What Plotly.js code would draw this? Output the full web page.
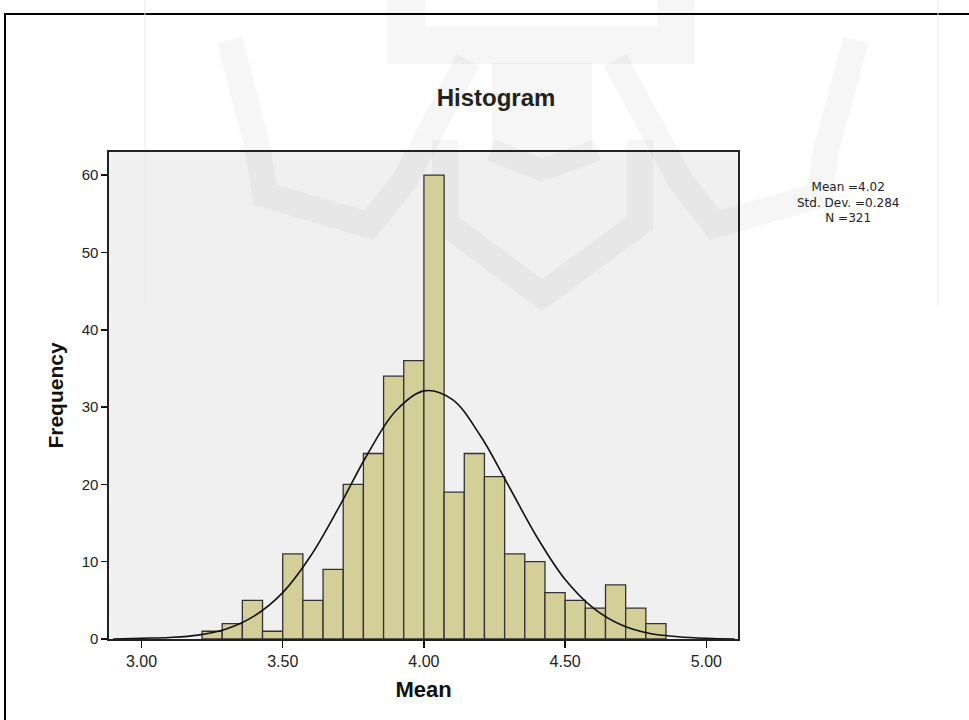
<!DOCTYPE html>
<html>
<head>
<meta charset="utf-8">
<script src="https://cdn.plot.ly/plotly-3.0.1.min.js"></script>
<style>html,body{margin:0;padding:0;background:#fff;}#chart{width:969px;height:720px;}</style>
</head>
<body>
<div id="chart"></div>
<script>
// Histogram bins: first bin starts at ~3.214, width 1/14
var binStart = 3.2143;
var binWidth = 0.5 / 7;
var counts = [1, 2, 5, 1, 11, 5, 9, 20, 24, 34, 36, 60, 19, 24, 21, 11, 10, 6, 5, 4, 7, 4, 2];

// Normal curve points
var curveX = [2.90, 3.00, 3.10, 3.20, 3.30, 3.40, 3.50, 3.60, 3.70, 3.80, 3.90, 4.00, 4.10, 4.20, 4.30, 4.40, 4.50, 4.60, 4.70, 4.80, 4.90, 5.00, 5.10];
var curveY = [0.0, 0.1, 0.2, 0.5, 1.3, 3.0, 6.0, 10.8, 17.1, 23.9, 29.5, 32.1, 31.0, 26.3, 19.8, 13.2, 7.7, 4.0, 1.8, 0.7, 0.3, 0.1, 0.0];

// Tick labels
var xTickVals = [3.0, 3.5, 4.0, 4.5, 5.0];
var xTickText = ["3.00", "3.50", "4.00", "4.50", "5.00"];
var yTickVals = [0, 10, 20, 30, 40, 50, 60];

// Summary statistics
var statLines = ["Mean =4.02", "Std. Dev. =0.284", "N =321"];

var binLefts = counts.map(function (c, i) { return binStart + i * binWidth; });

var FONT = "Liberation Sans, Arial, sans-serif";

var traces = [
  {
    type: "bar",
    x: binLefts,
    y: counts,
    width: binWidth,
    offset: 0,
    marker: { color: "#d4cf98", line: { color: "#333333", width: 1.3 } },
    hoverinfo: "x+y",
    showlegend: false
  },
  {
    type: "scatter",
    mode: "lines",
    x: curveX,
    y: curveY,
    line: { color: "#111", width: 1.6, shape: "spline", smoothing: 1 },
    hoverinfo: "skip",
    showlegend: false
  }
];

// plot area in pixels: left 109, right 738, top 152, bottom 639
function px(x) { return (x - 109) / 629; }
function py(y) { return (639 - y) / 487; }

var wm = "rgba(0,0,0,0.035)";
function band(pts, w) {
  var d = "M" + pts.map(function (p) { return px(p[0]) + "," + py(p[1]); }).join(" L");
  return { type: "path", xref: "paper", yref: "paper", path: d, line: { color: wm, width: w }, layer: "below" };
}

var shapes = [
  // outer frame
  { type: "rect", xref: "paper", yref: "paper", x0: px(5), x1: px(990), y0: py(14), y1: py(740),
    line: { color: "#000", width: 2 }, fillcolor: "rgba(0,0,0,0)", layer: "below" },
  // faint vertical guide lines
  { type: "line", xref: "paper", yref: "paper", x0: px(145), x1: px(145), y0: py(0), y1: py(305),
    line: { color: "#e8e8e8", width: 1 }, layer: "below" },
  { type: "line", xref: "paper", yref: "paper", x0: px(938), x1: px(938), y0: py(0), y1: py(305),
    line: { color: "#e8e8e8", width: 1 }, layer: "below" },
  // watermark approximation
  band([[406, 0], [406, 45], [676, 45], [676, 0]], 38),
  band([[542, 63], [542, 150]], 100),
  band([[445, 140], [445, 223], [542, 295], [640, 223], [640, 140]], 26),
  band([[491, 150], [542, 170], [597, 150]], 22),
  band([[230, 40], [258, 150], [265, 195], [369, 225], [405, 180], [468, 60]], 26),
  band([[856, 40], [826, 150], [820, 195], [715, 225], [680, 180], [615, 60]], 26)
];

var annotations = [{
  xref: "paper", yref: "paper", x: px(848), y: py(202),
  xanchor: "center", yanchor: "middle", showarrow: false, align: "center",
  text: statLines.join("<br>"),
  font: { family: "DejaVu Sans, sans-serif", size: 12, color: "#222" }
}];

var layout = {
  width: 969,
  height: 720,
  paper_bgcolor: "#ffffff",
  plot_bgcolor: "#f0f0f0",
  margin: { l: 109, r: 231, t: 152, b: 81, pad: 0 },
  bargap: 0,
  title: {
    text: "Histogram",
    font: { family: FONT, size: 24, color: "#222", weight: "bold" },
    x: 496 / 969, xref: "container", xanchor: "center",
    y: 1 - 98 / 720, yref: "container", yanchor: "middle"
  },
  xaxis: {
    range: [2.885, 5.112],
    tickvals: xTickVals,
    ticktext: xTickText,
    ticks: "outside", ticklen: 7, tickwidth: 1.5, tickcolor: "#111",
    showline: true, linecolor: "#222", linewidth: 1.6, mirror: true,
    showgrid: false, zeroline: false,
    tickfont: { family: FONT, size: 16, color: "#222" },
    title: { text: "Mean", font: { family: FONT, size: 22, color: "#111", weight: "bold" }, standoff: 13 }
  },
  yaxis: {
    range: [0, 63],
    tickvals: yTickVals,
    ticks: "outside", ticklen: 6, tickwidth: 1.5, tickcolor: "#111",
    showline: true, linecolor: "#222", linewidth: 1.6, mirror: true,
    showgrid: false, zeroline: false,
    tickfont: { family: FONT, size: 15, color: "#222" },
    title: { text: "Frequency", font: { family: FONT, size: 21, color: "#111", weight: "bold" }, standoff: 12 }
  },
  shapes: shapes,
  annotations: annotations
};

Plotly.newPlot("chart", traces, layout, { displayModeBar: false, staticPlot: true });
</script>
</body>
</html>
